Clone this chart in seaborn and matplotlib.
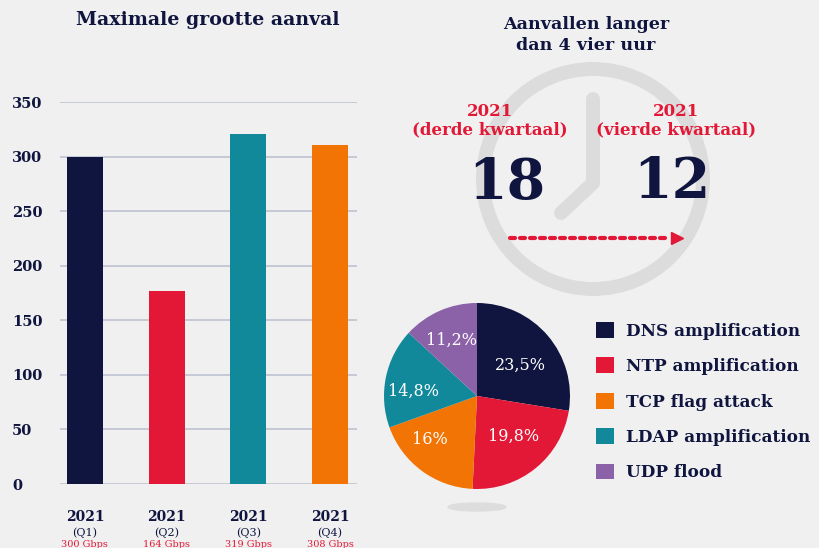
import numpy as np
import pandas as pd
import matplotlib.pyplot as plt
import seaborn as sns
from matplotlib.patches import Circle, Ellipse

# data
kwartalen = ['Q1', 'Q2', 'Q3', 'Q4']
jaar = ['2021', '2021', '2021', '2021']
grootte = [300, 177, 321, 311]          # bar height as drawn
grootte_label = ['300 Gbps', '164 Gbps', '319 Gbps', '308 Gbps']
yticks = [0, 50, 100, 150, 200, 250, 300, 350]

lang_labels = ['2021\n(derde kwartaal)', '2021\n(vierde kwartaal)']
lang_aantal = [18, 12]

types = ['DNS amplification', 'NTP amplification', 'TCP flag attack',
         'LDAP amplification', 'UDP flood']
aandeel = [23.5, 19.8, 16, 14.8, 11.2]
aandeel_txt = ['23,5%', '19,8%', '16%', '14,8%', '11,2%']

navy = '#10153f'
red = '#e31837'
kleuren = [navy, red, '#f27405', '#12899a', '#8b62a8']
bar_kleuren = [navy, red, '#12899a', '#f27405']
bg = '#f0f0f0'
grijs = '#dcdcdc'

sns.set_theme(style='white')
plt.rcParams['font.family'] = ['DejaVu Serif']

W, H = 819, 548
fig = plt.figure(figsize=(W / 100, H / 100), dpi=100, facecolor=bg)

def box(l, t, r, b):
    return [l / W, 1 - b / H, (r - l) / W, (b - t) / H]

# overlay for decorations (pixel coords)
deco = fig.add_axes([0, 0, 1, 1])
deco.set_xlim(0, W)
deco.set_ylim(H, 0)
deco.axis('off')
deco.set_facecolor('none')
deco.set_zorder(10)

# ---- bar chart ----
ax = fig.add_axes(box(60, 102, 357, 484))
ax.set_facecolor(bg)
df = pd.DataFrame({'kwartaal': kwartalen, 'grootte': grootte})
sns.barplot(data=df, x='kwartaal', y='grootte', hue='kwartaal',
            palette=bar_kleuren, legend=False, width=0.44, saturation=1,
            linewidth=0, ax=ax, zorder=3)
ax.set_xlim(-0.305, 3.33)
ax.set_ylim(0, 350)
ax.set_yticks(yticks)
ax.yaxis.grid(True, color='#c5c8d6', linewidth=1.4, zorder=0)
ax.set_axisbelow(True)
for s in ax.spines.values():
    s.set_visible(False)
ax.tick_params(axis='y', length=0, pad=34.5, labelsize=10.5, labelcolor=navy)
for lab in ax.get_yticklabels():
    lab.set_fontweight('bold')
    lab.set_horizontalalignment('left')
ax.set_xticks(range(4))
ax.set_xticklabels([])
ax.tick_params(axis='x', length=0)
ax.set_xlabel('')
ax.set_ylabel('')
xt = ax.get_xaxis_transform()
for i, k in enumerate(kwartalen):
    ax.text(i, -0.086, jaar[i], transform=xt, ha='center', va='center',
            fontsize=10, fontweight='bold', color=navy)
    ax.text(i, -0.127, f'({k})', transform=xt, ha='center', va='center',
            fontsize=8, color=navy)
    ax.text(i, -0.158, grootte_label[i], transform=xt, ha='center', va='center',
            fontsize=7, color=red)

fig.text(208 / W, 1 - 20 / H, 'Maximale grootte aanval', ha='center', va='center',
         fontsize=13.7, fontweight='bold', color=navy)

# ---- clock ----
fig.text(586 / W, 1 - 35 / H, 'Aanvallen langer\ndan 4 vier uur', ha='center',
         va='center', fontsize=12.6, fontweight='bold', color=navy, linespacing=1.25)
deco.add_patch(Circle((593, 179), 110, fill=False, ec=grijs, lw=10, zorder=1))
deco.plot([593, 593, 561], [99, 183, 213], color=grijs, lw=10,
          solid_capstyle='round', solid_joinstyle='round', zorder=1)
for x, lab in zip([490, 676], lang_labels):
    deco.text(x, 121, lab, ha='center', va='center', fontsize=12,
              fontweight='bold', color=red, linespacing=1.1, zorder=2)
for x, n in zip([507, 672], lang_aantal):
    deco.text(x, 183, str(n), ha='center', va='center', fontsize=40,
              fontweight='bold', color=navy, zorder=2)
deco.plot([510, 668], [238, 238], color=red, lw=3, ls=(0, (1.2, 1.2)),
          dash_capstyle='round', zorder=2)
deco.plot([677], [238], marker='>', ms=9, color=red, zorder=2)

# ---- pie ----
deco.add_patch(Ellipse((477, 507), 58, 8, color='#dddddd', zorder=1))
pax = fig.add_axes(box(384, 303, 570, 489))
wedges, _ = pax.pie(aandeel, colors=kleuren, startangle=90, counterclock=False,
                    radius=1, wedgeprops={'linewidth': 0})
pax.set_xlim(-1, 1)
pax.set_ylim(-1, 1)
pos = [(520, 365), (514, 436), (430, 439), (414, 391), (451, 340)]
for (px, py), t in zip(pos, aandeel_txt):
    deco.text(px, py, t, ha='center', va='center', fontsize=11.5, color='white',
              zorder=5)

leg = fig.legend(wedges, types, loc='upper left',
                 bbox_to_anchor=(596 / W, 1 - 322 / H),
                 frameon=False, fontsize=12.2, labelcolor=navy, handlelength=1.05,
                 handleheight=1.05, handletextpad=0.75, labelspacing=1.05,
                 borderpad=0, borderaxespad=0)
for t in leg.get_texts():
    t.set_fontweight('bold')

fig.savefig('out.png', dpi=100, facecolor=bg)
